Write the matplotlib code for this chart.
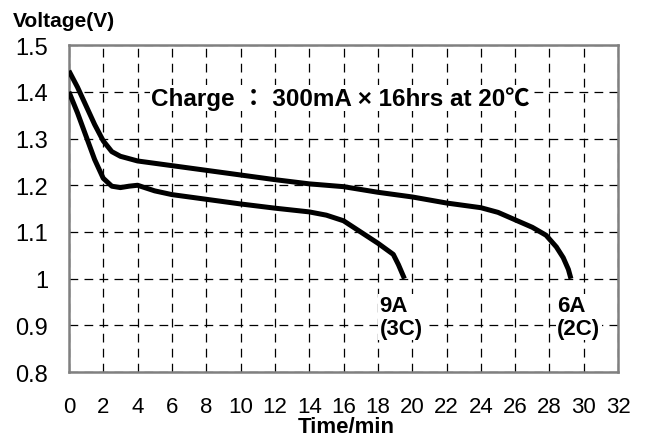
import matplotlib
matplotlib.use('Agg')
import matplotlib.pyplot as plt

# discharge curves (time in min, voltage in V)
t_6a = [0, 0.5, 1, 1.5, 2, 2.5, 3, 4, 6, 8, 10, 12, 14, 16, 18, 20, 22, 24,
        25, 26, 27, 27.8, 28.4, 28.8, 29.1, 29.25]
v_6a = [1.445, 1.41, 1.37, 1.33, 1.295, 1.272, 1.262, 1.252, 1.242, 1.232,
        1.222, 1.212, 1.203, 1.197, 1.185, 1.175, 1.162, 1.152, 1.142, 1.126,
        1.11, 1.093, 1.068, 1.045, 1.02, 1.0]

t_9a = [0, 0.5, 1, 1.5, 2, 2.5, 3, 3.5, 4, 5, 6, 8, 10, 12, 14, 15, 16, 17,
        18, 18.9, 19.2, 19.55]
v_9a = [1.40, 1.355, 1.305, 1.255, 1.215, 1.198, 1.195, 1.198, 1.200, 1.188,
        1.180, 1.170, 1.160, 1.151, 1.143, 1.136, 1.124, 1.100, 1.076, 1.052,
        1.03, 1.0]

x_ticks = list(range(0, 33, 2))
y_ticks = [0.8, 0.9, 1.0, 1.1, 1.2, 1.3, 1.4, 1.5]
y_labels = ['0.8', '0.9', '1', '1.1', '1.2', '1.3', '1.4', '1.5']

plt.rcParams['font.family'] = ['Liberation Sans', 'Noto Sans CJK JP', 'DejaVu Sans']

fig = plt.figure(figsize=(6.5, 4.39), dpi=100)
ax = fig.add_axes([0.106, 0.150, 0.845, 0.745])

ax.plot(t_6a, v_6a, color='black', lw=3.6, solid_capstyle='butt', zorder=3)
ax.plot(t_9a, v_9a, color='black', lw=3.6, solid_capstyle='butt', zorder=3)

ax.set_xlim(0, 32)
ax.set_ylim(0.8, 1.5)
ax.set_xticks(x_ticks)
ax.set_yticks(y_ticks)
ax.set_yticklabels(y_labels)
ax.tick_params(length=0)
ax.tick_params(axis='x', pad=17, labelsize=16)
ax.tick_params(axis='y', pad=15, labelsize=17)
ax.grid(True, color='black', linestyle=(0, (7, 5)), linewidth=0.9)
for s in ax.spines.values():
    s.set_color('#808080')
    s.set_linewidth(1.8)

ax.text(4.8, 1.372, 'Charge ： 300mA × 16hrs at 20℃', fontsize=17.5, fontweight='bold',
        va='baseline', ha='left', zorder=4,
        bbox=dict(facecolor='white', edgecolor='none', pad=1))
ax.text(18.1, 0.918, '9A\n(3C)', fontsize=16, fontweight='bold', va='center',
        ha='left', linespacing=1.1, zorder=4,
        bbox=dict(facecolor='white', edgecolor='none', pad=1))
ax.text(28.45, 0.918, '6A\n(2C)', fontsize=16, fontweight='bold', va='center',
        ha='left', linespacing=1.1, zorder=4,
        bbox=dict(facecolor='white', edgecolor='none', pad=1))

fig.text(0.02, 0.9385, 'Voltage(V)', fontsize=15, fontweight='bold',
         ha='left', va='baseline')
fig.text(0.532, 0.014, 'Time/min', fontsize=16, fontweight='bold',
         ha='center', va='baseline')

fig.savefig('out.png', dpi=100)
